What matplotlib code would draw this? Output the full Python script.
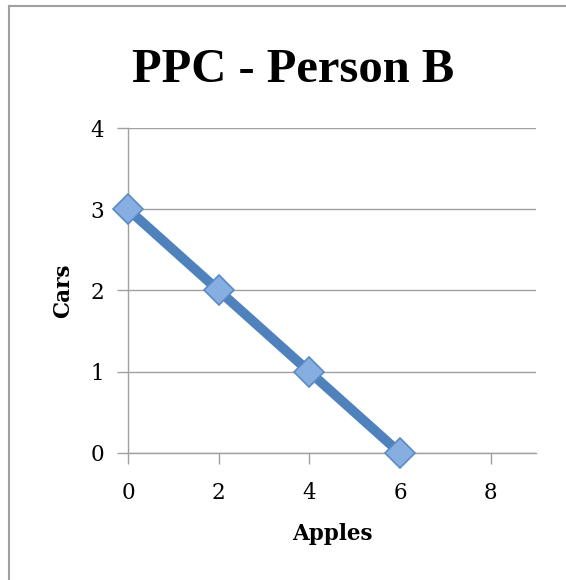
import matplotlib.pyplot as plt
from matplotlib.lines import Line2D

# PPC data for person B
apples = [0, 2, 4, 6]
cars = [3, 2, 1, 0]
xticks = [0, 2, 4, 6, 8]
yticks = [0, 1, 2, 3, 4]

plt.rcParams['font.family'] = ['DejaVu Serif']

fig = plt.figure(figsize=(5.66, 5.80), dpi=100)
ax = fig.add_axes([0.2261, 0.219, 0.721, 0.5603])

ax.plot(apples, cars, color='#4F81BD', lw=7, solid_capstyle='butt', zorder=3,
        marker='D', markersize=15, markerfacecolor='#86AEE0',
        markeredgecolor='#5A8AC6', markeredgewidth=1.2, clip_on=False)

ax.set_xlim(0, 9)
ax.set_ylim(0, 4)
ax.set_xticks(xticks)
ax.set_yticks(yticks)
ax.tick_params(direction='out', length=8, width=1, color='#a0a0a0',
               labelsize=15.5)
ax.tick_params(axis='x', pad=13)
ax.tick_params(axis='y', pad=9)
ax.grid(axis='y', color='#a0a0a0', lw=1)
ax.set_axisbelow(True)
for s in ['top', 'right']:
    ax.spines[s].set_visible(False)
for s in ['left', 'bottom']:
    ax.spines[s].set_color('#a0a0a0')
    ax.spines[s].set_linewidth(1)

ax.set_xlabel('Apples', fontsize=15.5, fontweight='bold')
ax.set_ylabel('Cars', fontsize=15.5, fontweight='bold', va='center')
ax.xaxis.set_label_coords(0.5, -0.215)
ax.yaxis.set_label_coords(-0.158, 0.5)

fig.text(0.518, 0.859, 'PPC - Person B', fontsize=35, fontweight='bold',
         family='Liberation Serif', ha='center', va='baseline')

# chart frame (only top and left edges visible)
fig.add_artist(Line2D([8.5/566, 1], [1 - 6/580, 1 - 6/580], color='#a0a0a0', lw=1.5))
fig.add_artist(Line2D([8.5/566, 8.5/566], [0, 1 - 6/580], color='#a0a0a0', lw=1.5))

fig.savefig('out.png', dpi=100)
